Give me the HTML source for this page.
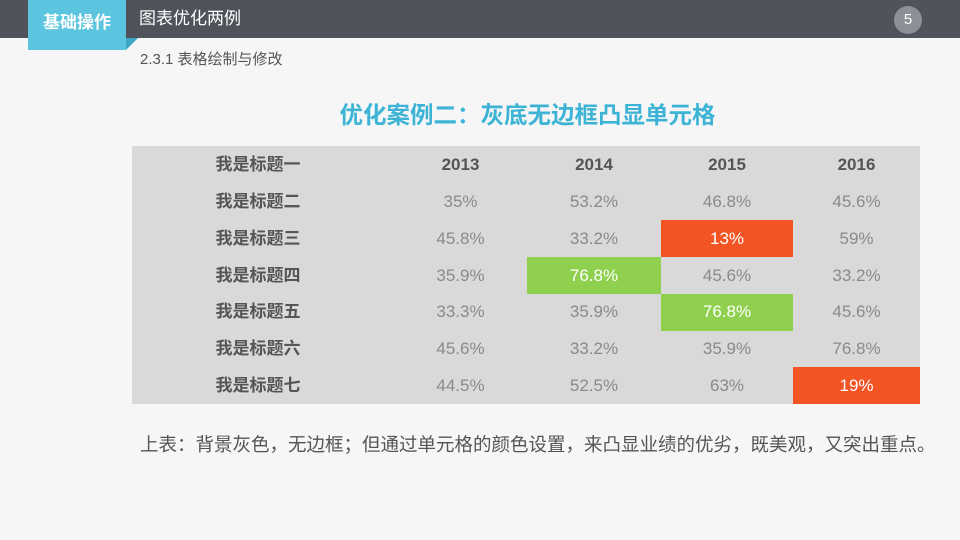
<!DOCTYPE html>
<html><head><meta charset="utf-8"><style>
*{margin:0;padding:0;box-sizing:border-box}
body{width:960px;height:540px;overflow:hidden;background:#f6f6f6;position:relative;font-family:"Liberation Sans","Noto Sans CJK SC",sans-serif}
.a{position:absolute;white-space:nowrap}
.c{position:absolute;height:37px;line-height:37px;text-align:center;font-size:17px;color:#8a8a8a}
.h{font-weight:bold;color:#555}
</style></head><body>
<div class="a" style="left:0;top:0;width:960px;height:38px;background:#50535c"></div>
<div class="a" style="left:28px;top:0;width:98px;height:50px;background:#5bc4de"></div>
<div class="a" style="left:126px;top:38px;width:0;height:0;border-top:12px solid #3aa7c6;border-right:12px solid transparent"></div>
<div class="a" style="left:28px;top:0;width:98px;height:45px;line-height:45px;text-align:center;color:#fff;font-weight:bold;font-size:17px">基础操作</div>
<div class="a" style="left:139px;top:0;height:38px;line-height:38px;color:#fff;font-size:17px">图表优化两例</div>
<div class="a" style="left:894px;top:6px;width:28px;height:28px;border-radius:50%;background:#8e9097;color:#fff;text-align:center;line-height:28px;font-size:15px">5</div>
<div class="a" style="left:140px;top:50px;font-size:15px;color:#555;line-height:20px">2.3.1 表格绘制与修改</div>
<div class="a" style="left:0;width:1055px;top:100px;text-align:center;font-size:23.5px;font-weight:bold;color:#3db4d6;line-height:30px">优化案例二：灰底无边框凸显单元格</div>
<div class="a" style="left:132px;top:146px;width:788px;height:258px;background:#d9d9d9"></div>
<div class="a" style="left:661px;top:220px;width:132px;height:37px;background:#f25424"></div>
<div class="a" style="left:527px;top:257px;width:134px;height:37px;background:#8fd14f"></div>
<div class="a" style="left:661px;top:294px;width:132px;height:37px;background:#8fd14f"></div>
<div class="a" style="left:793px;top:367px;width:127px;height:37px;background:#f25424"></div>
<div id="t"></div>
<script>
var rows=[["我是标题一","2013","2014","2015","2016"],["我是标题二","35%","53.2%","46.8%","45.6%"],["我是标题三","45.8%","33.2%","13%","59%"],["我是标题四","35.9%","76.8%","45.6%","33.2%"],["我是标题五","33.3%","35.9%","76.8%","45.6%"],["我是标题六","45.6%","33.2%","35.9%","76.8%"],["我是标题七","44.5%","52.5%","63%","19%"]];
var xs=[[132,252],[394,133],[527,134],[661,132],[793,127]];
var white={"2,3":1,"3,2":1,"4,3":1,"6,4":1};
var h="";
rows.forEach(function(r,i){r.forEach(function(v,j){
var cls="c"+((i==0||j==0)?" h":"");
var st="left:"+xs[j][0]+"px;width:"+xs[j][1]+"px;top:"+(146+i*36.86)+"px;";
if(white[i+","+j])st+="color:#fff;";
h+='<div class="'+cls+'" style="'+st+'">'+v+'</div>';});});
document.getElementById("t").innerHTML=h;
</script>
<div class="a" style="left:140px;top:432px;font-size:18.5px;color:#555;line-height:26px">上表：背景灰色，无边框；但通过单元格的颜色设置，来凸显业绩的优劣，既美观，又突出重点。</div>
</body></html>
